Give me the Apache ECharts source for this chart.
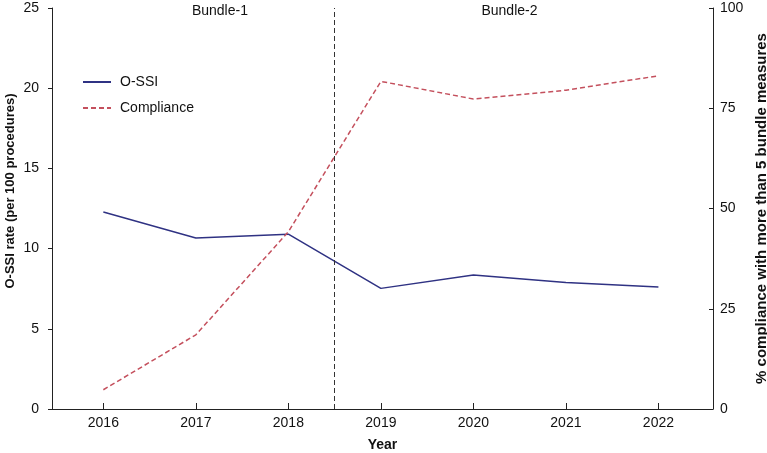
<!DOCTYPE html>
<html>
<head>
<meta charset="utf-8">
<script src="https://cdn.jsdelivr.net/npm/echarts@6/dist/echarts.min.js"></script>
<style>html,body{margin:0;padding:0;background:#fff}#c{width:767px;height:453px}</style>
</head>
<body>
<div id="c"></div>
<script>
const years = [2016, 2017, 2018, 2019, 2020, 2021, 2022];
const ossi = [12.28, 10.66, 10.9, 7.52, 8.35, 7.89, 7.6];
const compliance = [4.8, 18.5, 44.2, 81.7, 77.3, 79.5, 83.1];
const leftTicks = [0, 5, 10, 15, 20, 25];
const rightTicks = [0, 25, 50, 75, 100];
const bundleSplit = 2018.5;
const bundleLabels = [['Bundle-1', 2017.26], ['Bundle-2', 2020.39]];

const font = 'Liberation Sans, Arial, Helvetica, sans-serif';
const chart = echarts.init(document.getElementById('c'));
chart.setOption({
  animation: false,
  grid: { left: 52, right: 54, top: 8, bottom: 44, containLabel: false, outerBoundsMode: 'none' },
  legend: {
    orient: 'vertical', left: 77, top: 70, itemWidth: 28, itemHeight: 14, itemGap: 12,
    itemStyle: { opacity: 0 },
    textStyle: { fontFamily: font, fontSize: 14, color: '#111', padding: [0, 0, 0, 4] },
    data: ['O-SSI', 'Compliance']
  },
  graphic: [{
    type: 'text', x: 10, y: 191, rotation: Math.PI / 2,
    style: { text: 'O-SSI rate (per 100 procedures)', font: 'bold 13px ' + font, fill: '#111', align: 'center', verticalAlign: 'middle' }
  }],
  xAxis: {
    type: 'value', min: 2015.445, max: 2022.59,
    name: 'Year', nameLocation: 'middle', nameGap: 29,
    nameTextStyle: { fontFamily: font, fontSize: 14, fontWeight: 'bold', color: '#111' },
    axisLine: { lineStyle: { color: '#222', width: 1 } },
    axisTick: { inside: true, length: 6, customValues: years, lineStyle: { color: '#222' } },
    axisLabel: { customValues: years, fontFamily: font, fontSize: 14, color: '#111', margin: 7, formatter: v => String(v) },
    splitLine: { show: false }
  },
  yAxis: [
    {
      type: 'value', min: 0, max: 25, interval: 5,
      axisLine: { show: true, lineStyle: { color: '#222' } },
      axisTick: { show: true, length: 4, lineStyle: { color: '#222' } },
      axisLabel: { fontFamily: font, fontSize: 14, color: '#111', margin: 13 },
      splitLine: { show: false }
    },
    {
      type: 'value', min: 0, max: 100, interval: 25, position: 'right',
      name: '% compliance with more than 5 bundle measures', nameLocation: 'middle', nameGap: 40, nameRotate: 90,
      nameTextStyle: { fontFamily: font, fontSize: 15, fontWeight: 'bold', color: '#111' },
      axisLine: { show: true, lineStyle: { color: '#222' } },
      axisTick: { show: true, inside: true, length: 4, lineStyle: { color: '#222' } },
      axisLabel: { fontFamily: font, fontSize: 14, color: '#111', margin: 7 },
      splitLine: { show: false }
    }
  ],
  series: [
    {
      name: 'O-SSI', type: 'line', yAxisIndex: 0, symbol: 'none',
      data: years.map((y, i) => [y, ossi[i]]),
      lineStyle: { color: '#2f3283', width: 1.5 },
      itemStyle: { color: '#2f3283' },
      markLine: {
        silent: true, symbol: 'none', label: { show: false },
        lineStyle: { color: '#333', type: [5, 3], width: 1 },
        data: [{ xAxis: bundleSplit }]
      }
    },
    {
      name: 'Compliance', type: 'line', yAxisIndex: 1, symbol: 'none',
      data: years.map((y, i) => [y, compliance[i]]),
      lineStyle: { color: '#c4505d', width: 1.5, type: [5, 3] },
      itemStyle: { color: '#c4505d' },
      markPoint: {
        symbol: 'rect', symbolSize: 1, itemStyle: { color: 'rgba(0,0,0,0)' },
        label: { show: true, position: 'inside', fontFamily: font, fontSize: 14, color: '#111', formatter: p => p.name },
        data: bundleLabels.map(b => ({ name: b[0], coord: [b[1], 99.2] }))
      }
    }
  ]
});
</script>
</body>
</html>
